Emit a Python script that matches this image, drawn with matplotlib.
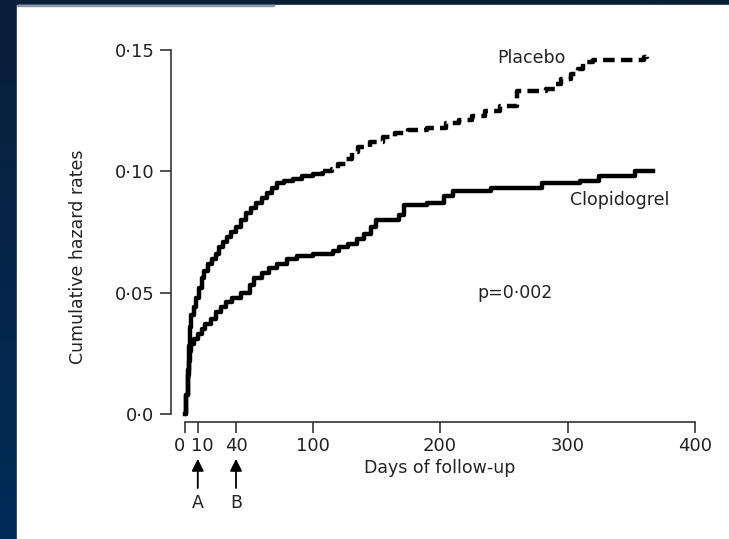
import numpy as np
import matplotlib
matplotlib.use('Agg')
import matplotlib.pyplot as plt
from matplotlib.patches import Rectangle
from matplotlib.transforms import ScaledTranslation

# cumulative hazard
placebo_days = [0, 1, 2, 3, 4, 5, 7, 9, 11, 13, 15, 18, 21, 24, 27, 30, 33, 36, 40, 44,
                48, 52, 56, 60, 64, 68, 72, 78, 85, 92, 100, 108, 115, 120, 126, 131,
                136, 145, 155, 165, 175, 190, 205, 215, 225, 235, 247, 260, 283, 290,
                295, 303, 308, 312, 320, 360, 362]
placebo_rate = [0.0, 0.008, 0.018, 0.028, 0.036, 0.041, 0.044, 0.048, 0.052, 0.056,
                0.059, 0.062, 0.064, 0.066, 0.069, 0.071, 0.073, 0.075, 0.077, 0.080,
                0.083, 0.085, 0.087, 0.089, 0.091, 0.093, 0.095, 0.096, 0.097, 0.098,
                0.099, 0.100, 0.101, 0.103, 0.105, 0.108, 0.110, 0.112, 0.114, 0.116,
                0.117, 0.118, 0.120, 0.121, 0.123, 0.125, 0.127, 0.133, 0.134, 0.136,
                0.138, 0.140, 0.142, 0.145, 0.146, 0.147, 0.148]

clopi_days = [0, 1, 2, 3, 4, 5, 7, 10, 13, 16, 20, 24, 28, 32, 37, 44, 51, 54, 60, 66,
              72, 80, 88, 100, 116, 121, 128, 135, 140, 146, 150, 168, 172, 190, 203,
              210, 240, 280, 310, 325, 353, 367]
clopi_rate = [0.0, 0.008, 0.016, 0.022, 0.026, 0.029, 0.031, 0.033, 0.035, 0.037,
              0.039, 0.042, 0.044, 0.046, 0.048, 0.050, 0.053, 0.056, 0.058, 0.060,
              0.062, 0.064, 0.065, 0.066, 0.067, 0.069, 0.070, 0.072, 0.074, 0.077,
              0.080, 0.082, 0.086, 0.087, 0.090, 0.092, 0.093, 0.095, 0.096, 0.098,
              0.100, 0.100]

x_ticks = [0, 10, 40, 100, 200, 300, 400]
y_ticks = [0.0, 0.05, 0.10, 0.15]
y_ticklabels = ['0\u00b70', '0\u00b705', '0\u00b710', '0\u00b715']

W, H = 729, 539
fig = plt.figure(figsize=(W / 100, H / 100), dpi=100)
fig.patch.set_facecolor('#0a1f3a')

# dark blue frame with a slight gradient on the left, white page on top
bg = fig.add_axes([0, 0, 1, 1], zorder=-10)
grad = np.linspace(0, 1, 256).reshape(-1, 1)
bg.imshow(grad, aspect='auto', extent=[0, 1, 0, 1], origin='upper',
          cmap=matplotlib.colors.LinearSegmentedColormap.from_list('bgc', ['#0a1f3a', '#002c58']))
bg.add_patch(Rectangle((17 / W, 0), 1, 1 - 5 / H, color='white'))
bg.add_patch(Rectangle((17 / W, 1 - 6 / H), 257 / W, 1.5 / H, color='#8a97a8'))
bg.set_xlim(0, 1)
bg.set_ylim(0, 1)
bg.axis('off')

ax = fig.add_axes([171 / W, (H - 422) / H, (695 - 171) / W, (422 - 50) / H])
ax.patch.set_alpha(0)

split = placebo_days.index(108)
ax.step(placebo_days[:split + 1], placebo_rate[:split + 1], where='post',
        color='black', linewidth=3.2, solid_capstyle='butt')
ax.step(placebo_days[split:], placebo_rate[split:], where='post',
        color='black', linewidth=3.2, linestyle=(0, (2.6, 1.4)), dash_capstyle='butt')
ax.step(clopi_days, clopi_rate, where='post', color='black', linewidth=3.2)

ax.set_xlim(-11, 400)
ax.set_ylim(-0.0033, 0.15)
ax.spines['top'].set_visible(False)
ax.spines['right'].set_visible(False)
ax.spines['bottom'].set_bounds(0, 400)
ax.spines['left'].set_bounds(0, 0.15)
for s in ('bottom', 'left'):
    ax.spines[s].set_linewidth(1.2)
    ax.spines[s].set_color('#333333')

ax.set_xticks(x_ticks)
ax.set_xticklabels([str(t) for t in x_ticks])
ax.set_yticks(y_ticks)
ax.set_yticklabels(y_ticklabels)
ax.tick_params(direction='out', length=8, width=1.2, color='#333333',
               labelsize=13, labelcolor='#222222', pad=4)
ax.tick_params(axis='x', pad=3)

# "0" and "10" sit side by side under the axis ("010")
xlabels = ax.get_xticklabels()
xlabels[0].set_transform(xlabels[0].get_transform() + ScaledTranslation(-4 / 72, 0, fig.dpi_scale_trans))
xlabels[1].set_transform(xlabels[1].get_transform() + ScaledTranslation(3.5 / 72, 0, fig.dpi_scale_trans))

ax.text(200, -0.0222, 'Days of follow-up', ha='center', va='center', fontsize=12.5, color='#222222')
fig.text(78 / W, 1 - 257 / H, 'Cumulative hazard rates', rotation=90,
         ha='center', va='center', fontsize=12.5, color='#222222')

ax.text(272, 0.1467, 'Placebo', ha='center', va='center', fontsize=12.5, color='#222222')
ax.text(341, 0.088, 'Clopidogrel', ha='center', va='center', fontsize=12.5, color='#222222')
ax.text(259, 0.0499, 'p=0\u00b7002', ha='center', va='center', fontsize=12.5, color='#222222')

for day, lab in [(10, 'A'), (40, 'B')]:
    ax.annotate('', xy=(day, -0.0185), xytext=(day, -0.0305), annotation_clip=False,
                arrowprops=dict(arrowstyle='-|>', color='black', lw=1.3,
                                mutation_scale=18, shrinkA=0, shrinkB=0))
    ax.text(day, -0.0368, lab, ha='center', va='center', fontsize=12.5, color='#222222')

fig.savefig('out.png', dpi=100)
